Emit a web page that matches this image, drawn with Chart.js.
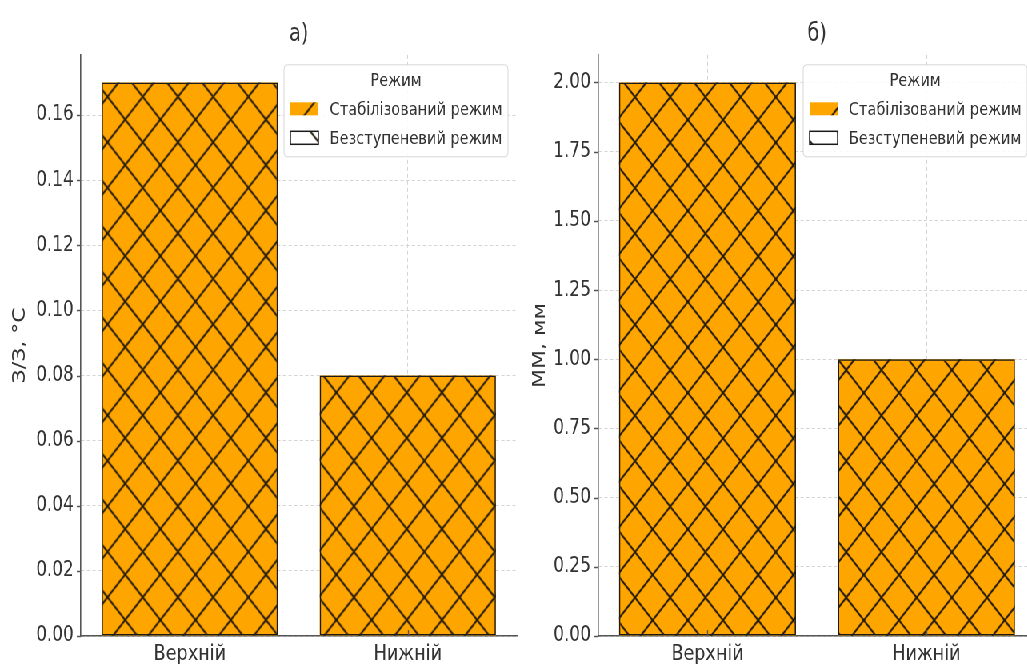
<!DOCTYPE html>
<html>
<head>
<meta charset="utf-8">
<script src="https://cdn.jsdelivr.net/npm/chart.js@4.4.0/dist/chart.umd.min.js"></script>
<style>
  html, body { margin: 0; padding: 0; background: #fff; overflow: hidden; width: 1027px; height: 664px; }
  /* the source picture is squeezed horizontally, so the whole figure is drawn wide and scaled */
  #wrap { position: absolute; left: 0; top: 0; width: 1320px; height: 664px; transform: scaleX(0.8); transform-origin: 0 0; }
  canvas { position: absolute; top: 0; }
</style>
</head>
<body>
<div id="wrap">
  <canvas id="chartA" width="660" height="664" style="left:0"></canvas>
  <canvas id="chartB" width="660" height="664" style="left:660px"></canvas>
</div>
<script>
const categories = ['Верхній', 'Нижній'];
const seriesNames = ['Стабілізований режим', 'Безступеневий режим'];
const legendTitle = 'Режим';

const stabA = [0.17, 0.08];
const steplessA = [0.17, 0.08];
const stabB = [2.0, 1.0];
const steplessB = [2.0, 1.0];

const titleA = 'а)';
const titleB = 'б)';
const yLabelA = 'З/З, °C';
const yLabelB = 'ММ, мм';

Chart.defaults.font.family = '"DejaVu Sans", sans-serif';
Chart.defaults.color = '#333';

function makeHatch(fill, dir, ox, oy) {
  const tw = 88, th = 91;
  const c = document.createElement('canvas');
  c.width = tw; c.height = th;
  const g = c.getContext('2d');
  if (fill) { g.fillStyle = fill; g.fillRect(0, 0, tw, th); }
  g.strokeStyle = '#221a0a';
  g.lineWidth = 2;
  g.beginPath();
  for (let n = -3; n <= 5; n++) {
    if (dir === '/') { g.moveTo(n * 44, 0); g.lineTo(n * 44 - 88, th); }
    else { g.moveTo(n * 44, 0); g.lineTo(n * 44 + 88, th); }
  }
  g.stroke();
  const p = g.createPattern(c, 'repeat');
  p.setTransform(new DOMMatrix().translate(ox, oy));
  return p;
}

// tick marks: y ticks out to the left, x ticks pointing up into the plot
const tickMarks = {
  id: 'tickMarks',
  afterDatasetsDraw(chart) {
    const { ctx, chartArea: a } = chart;
    const x = chart.scales.x, y = chart.scales.y;
    ctx.save();
    ctx.strokeStyle = '#555';
    ctx.lineWidth = 1.3;
    ctx.beginPath();
    y.ticks.forEach(t => {
      const py = Math.round(y.getPixelForValue(t.value)) + 0.5;
      ctx.moveTo(a.left - 5, py); ctx.lineTo(a.left, py);
    });
    x.ticks.forEach((t, i) => {
      const px = Math.round(x.getPixelForTick(i)) + 0.5;
      ctx.moveTo(px, a.bottom); ctx.lineTo(px, a.bottom - 6);
    });
    ctx.stroke();
    ctx.restore();
  }
};

const hatchLegend = {
  id: 'hatchLegend',
  afterDraw(chart) {
    const { ctx, chartArea: a } = chart;
    const w = 280, h = 92;
    const x = a.right - 11 - w, y = a.top + 10;
    ctx.save();
    ctx.beginPath();
    ctx.roundRect(x, y, w, h, 4);
    ctx.fillStyle = 'rgba(255,255,255,0.85)';
    ctx.fill();
    ctx.strokeStyle = '#d6d6d6';
    ctx.lineWidth = 1;
    ctx.stroke();
    ctx.font = '18.2px "DejaVu Sans"';
    ctx.textBaseline = 'middle';
    ctx.textAlign = 'center';
    ctx.fillStyle = '#333';
    ctx.fillText(legendTitle, x + w / 2, y + 16);
    ctx.textAlign = 'left';
    chart.data.datasets.forEach((ds, i) => {
      const cy = y + 44 + i * 29, px = x + 8, pw = 35, ph = 13;
      if (ds.borderWidth) { ctx.fillStyle = '#fff'; ctx.fillRect(px, cy - ph / 2, pw, ph); }
      ctx.fillStyle = ds.backgroundColor;
      ctx.fillRect(px, cy - ph / 2, pw, ph);
      if (ds.borderWidth) {
        ctx.strokeStyle = ds.borderColor;
        ctx.lineWidth = 1.5;
        ctx.strokeRect(px, cy - ph / 2, pw, ph);
      }
      ctx.fillStyle = '#333';
      ctx.fillText(ds.label, x + 57, cy + 1);
    });
    ctx.restore();
  }
};

function makeChart(id, stab, stepless, title, yLabel, yMax, step, axisW, padRight, titlePad, ox, oy) {
  const ctx = document.getElementById(id).getContext('2d');
  return new Chart(ctx, {
    type: 'bar',
    data: {
      labels: categories,
      datasets: [{
        label: seriesNames[0],
        data: stab,
        backgroundColor: makeHatch('#FFA500', '/', ox, oy),
        borderWidth: 0,
        grouped: false,
        order: 1,
        barPercentage: 0.808,
        categoryPercentage: 1
      }, {
        label: seriesNames[1],
        data: stepless,
        backgroundColor: makeHatch(null, '\\', ox, oy),
        borderColor: '#1a1a1a',
        borderWidth: 1.5,
        borderSkipped: false,
        grouped: false,
        order: 0,
        barPercentage: 0.808,
        categoryPercentage: 1
      }]
    },
    options: {
      responsive: false,
      animation: false,
      devicePixelRatio: 1,
      events: [],
      layout: { padding: { left: 0, right: padRight, top: 0, bottom: 0 } },
      plugins: {
        legend: { display: false },
        tooltip: { enabled: false },
        title: {
          display: true,
          text: title,
          fullSize: false,
          color: '#333',
          font: { size: 24, weight: 'normal' },
          padding: { top: 20, bottom: 6 }
        }
      },
      scales: {
        x: {
          grid: { offset: false, color: '#d4d4d4', drawTicks: false },
          border: { color: '#555', width: 1.6, dash: [4, 3] },
          ticks: { font: { size: 22 }, color: '#333', padding: 5 },
          afterFit(s) { s.height = 28; }
        },
        y: {
          min: 0,
          max: yMax,
          grid: { color: '#d4d4d4', drawTicks: false },
          border: { color: '#555', width: 1.6, dash: [4, 3] },
          ticks: {
            stepSize: step,
            includeBounds: false,
            font: { size: 21 },
            color: '#333',
            padding: 9,
            callback: v => v.toFixed(2)
          },
          title: {
            display: true,
            text: yLabel,
            color: '#333',
            font: { size: 22 },
            padding: { top: titlePad, bottom: 0 }
          },
          afterFit(s) { s.width = axisW; }
        }
      }
    },
    plugins: [tickMarks, hatchLegend]
  });
}

makeChart('chartA', stabA, steplessA, titleA, yLabelA, 0.1785, 0.02, 101, 14, 12, 178.4, 96.7);
makeChart('chartB', stabB, steplessB, titleB, yLabelB, 2.1, 0.25, 87.5, 25, 2, 133.75, 97);
</script>
</body>
</html>
